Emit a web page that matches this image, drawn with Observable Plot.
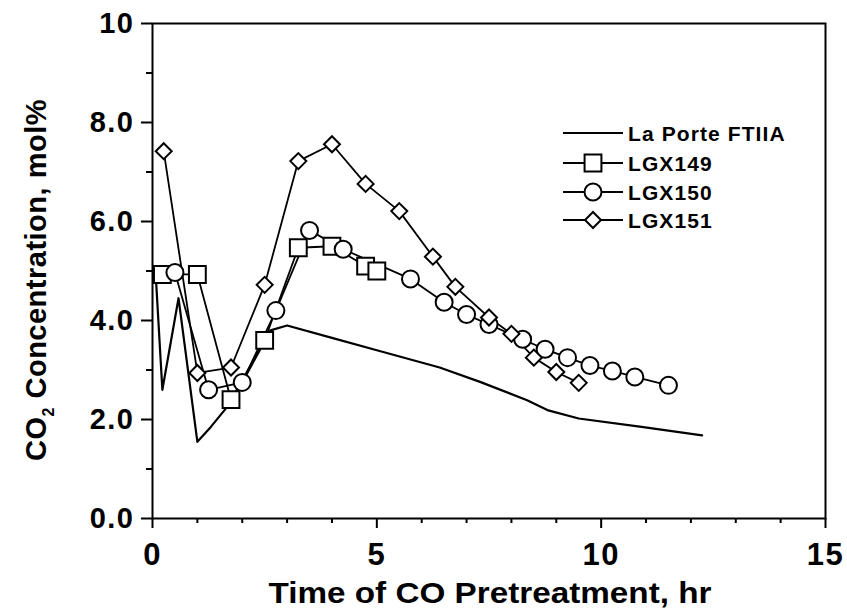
<!DOCTYPE html>
<html>
<head>
<meta charset="utf-8">
<script src="https://cdn.jsdelivr.net/npm/d3@7"></script>
<script src="https://cdn.jsdelivr.net/npm/@observablehq/plot@0.6"></script>
<style>
  html, body { margin: 0; padding: 0; background: white; }
  #chart { position: relative; width: 847px; height: 613px; }
</style>
</head>
<body>
<div id="chart"></div>
<script>
// ---- data ----
const laPorteX = [0.07, 0.22, 0.58, 1.0, 1.3, 1.66, 2.0, 2.63, 3.0, 4.0, 5.0, 6.4, 7.3, 8.35, 8.8, 9.5, 10.9, 12.25];
const laPorteY = [4.95, 2.6, 4.45, 1.55, 1.85, 2.25, 2.75, 3.8, 3.9, 3.65, 3.4, 3.05, 2.76, 2.39, 2.19, 2.02, 1.85, 1.68];

const lgx149X = [0.22, 1.0, 1.75, 2.5, 3.25, 4.0, 4.75, 5.0];
const lgx149Y = [4.93, 4.93, 2.4, 3.6, 5.47, 5.5, 5.1, 5.0];

const lgx150X = [0.5, 1.25, 2.0, 2.75, 3.5, 4.25, 5.75, 6.5, 7.0, 7.5, 8.25, 8.75, 9.25, 9.75, 10.25, 10.75, 11.5];
const lgx150Y = [4.97, 2.6, 2.75, 4.2, 5.82, 5.44, 4.84, 4.37, 4.12, 3.92, 3.62, 3.42, 3.25, 3.09, 2.98, 2.86, 2.69];

const lgx151X = [0.25, 1.0, 1.75, 2.5, 3.25, 4.0, 4.75, 5.5, 6.25, 6.75, 7.5, 8.0, 8.5, 9.0, 9.5];
const lgx151Y = [7.42, 2.94, 3.05, 4.72, 7.22, 7.56, 6.76, 6.21, 5.29, 4.68, 4.06, 3.73, 3.25, 2.96, 2.74];

const seriesNames = ["La Porte FTIIA", "LGX149", "LGX150", "LGX151"];
const xMajorTicks = [0, 5, 10, 15];
const xMinorTicks = [1, 2, 3, 4, 6, 7, 8, 9, 11, 12, 13, 14];
const yMajorTicks = [0, 2, 4, 6, 8, 10];
const yMinorTicks = [1, 3, 5, 7, 9];
const xTitle = "Time of CO Pretreatment, hr";

const toRows = (xs, ys, name) => xs.map((x, i) => ({x, y: ys[i], series: name}));
const laPorte = toRows(laPorteX, laPorteY, seriesNames[0]);
const s149 = toRows(lgx149X, lgx149Y, seriesNames[1]);
const s150 = toRows(lgx150X, lgx150Y, seriesNames[2]);
const s151 = toRows(lgx151X, lgx151Y, seriesNames[3]);

const FONT = "'Liberation Sans', Arial, Helvetica, sans-serif";
const markerStyle = {x: "x", y: "y", fill: "white", stroke: "black", strokeWidth: 2};

const plot = Plot.plot({
  width: 847,
  height: 613,
  marginLeft: 152,
  marginRight: 22,
  marginTop: 23,
  marginBottom: 95,
  x: {domain: [0, 15]},
  y: {domain: [0, 10]},
  style: {fontFamily: FONT, fontWeight: "bold", fontSize: "29px", color: "black", background: "white", overflow: "visible", letterSpacing: "1.5px"},
  marks: [
    Plot.frame({stroke: "black", strokeWidth: 2}),
    Plot.axisX({ticks: xMajorTicks, tickSize: 10, tickPadding: 14, strokeWidth: 2, label: null, fontSize: 31, tickFormat: d => String(d)}),
    Plot.axisX({ticks: xMinorTicks, tickSize: 5, strokeWidth: 2, label: null, tickFormat: () => ""}),
    Plot.axisY({ticks: yMajorTicks, tickSize: 11, tickPadding: 7, strokeWidth: 2, label: null, tickFormat: d => d === 10 ? "10" : d.toFixed(1)}),
    Plot.axisY({ticks: yMinorTicks, tickSize: 6, strokeWidth: 2, label: null, tickFormat: () => ""}),
    Plot.line(laPorte, {x: "x", y: "y", stroke: "black", strokeWidth: 2.2}),
    Plot.line(s149, {x: "x", y: "y", stroke: "black", strokeWidth: 1.8}),
    Plot.line(s150, {x: "x", y: "y", stroke: "black", strokeWidth: 1.8}),
    Plot.line(s151, {x: "x", y: "y", stroke: "black", strokeWidth: 1.8}),
    Plot.dot(s149, {...markerStyle, symbol: "square", r: 9.5}),
    Plot.dot(s150, {...markerStyle, symbol: "circle", r: 8.5}),
    Plot.dot(s151, {...markerStyle, symbol: "diamond2", r: 7.2})
  ]
});

document.getElementById("chart").appendChild(plot);

const svg = d3.select(plot);

// x-axis title
svg.append("text")
  .attr("x", 490).attr("y", 603)
  .attr("text-anchor", "middle")
  .attr("font-family", FONT).attr("font-weight", "bold").attr("font-size", 30)
  .attr("letter-spacing", 0)
  .attr("textLength", 443).attr("lengthAdjust", "spacingAndGlyphs")
  .attr("fill", "black")
  .text(xTitle);

// y-axis title with subscript
const yt = svg.append("text")
  .attr("transform", "translate(46,280) rotate(-90)")
  .attr("text-anchor", "middle")
  .attr("font-family", FONT).attr("font-weight", "bold").attr("font-size", 29)
  .attr("letter-spacing", 0.5)
  .attr("fill", "black");
yt.append("tspan").text("CO");
yt.append("tspan").attr("font-size", 16).attr("dy", 8).text("2");
yt.append("tspan").attr("dy", -8).text(" Concentration, mol%");

// legend
const legend = svg.append("g").attr("font-family", FONT).attr("font-weight", "bold").attr("font-size", 21)
  .attr("text-anchor", "start");
const rowY = [133, 163, 192, 220];
const legendSymbols = [null, d3.symbolSquare, d3.symbolCircle, d3.symbolDiamond2];
const legendR = [0, 9.5, 8.5, 7.2];
seriesNames.forEach((name, i) => {
  const g = legend.append("g").attr("transform", `translate(0,${rowY[i]})`);
  g.append("line").attr("x1", 563).attr("x2", 623).attr("y1", 0).attr("y2", 0)
    .attr("stroke", "black").attr("stroke-width", 2);
  if (legendSymbols[i]) {
    g.append("path")
      .attr("d", d3.symbol(legendSymbols[i], Math.PI * legendR[i] * legendR[i])())
      .attr("transform", "translate(593,0)")
      .attr("fill", "white").attr("stroke", "black").attr("stroke-width", 2);
  }
  g.append("text").attr("x", 628).attr("y", 7.5).attr("fill", "black")
    .attr("text-anchor", "start")
    .attr("letter-spacing", 1.1)
    .text(name);
});
</script>
</body>
</html>
